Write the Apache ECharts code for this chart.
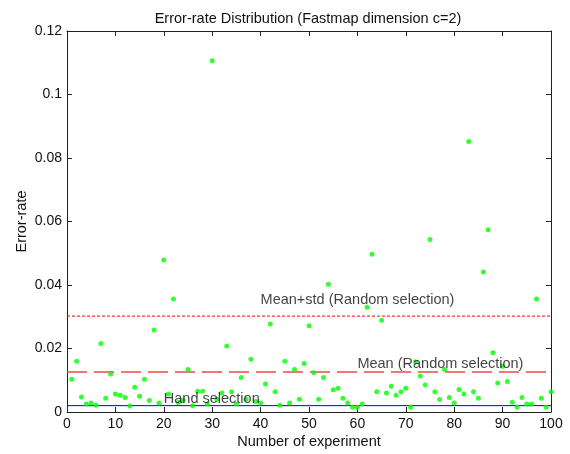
<!DOCTYPE html>
<html>
<head>
<meta charset="utf-8">
<script src="https://cdn.jsdelivr.net/npm/echarts@6/dist/echarts.min.js"></script>
<style>html,body{margin:0;padding:0;background:#fff}#c{width:570px;height:454px}</style>
</head>
<body>
<div id="c"></div>
<script>
var experiments = [1,2,3,4,5,6,7,8,9,10,11,12,13,14,15,16,17,18,19,20,
  21,22,23,24,25,26,27,28,29,30,31,32,33,34,35,36,37,38,39,40,
  41,42,43,44,45,46,47,48,49,50,51,52,53,54,55,56,57,58,59,60,
  61,62,63,64,65,66,67,68,69,70,71,72,73,74,75,76,77,78,79,80,
  81,82,83,84,85,86,87,88,89,90,91,92,93,94,95,96,97,98,99,100];
var errorRates = [
  0.0103,0.0160,0.0047,0.0025,0.0028,0.0021,0.0216,0.0043,0.0120,0.0057,
  0.0053,0.0046,0.0019,0.0078,0.0050,0.0103,0.0036,0.0258,0.0028,0.0479,
  0.0057,0.0356,0.0030,0.0037,0.0134,0.0020,0.0065,0.0065,0.0025,0.1106,
  0.0040,0.0060,0.0208,0.0064,0.0025,0.0109,0.0040,0.0166,0.0033,0.0028,
  0.0088,0.0277,0.0064,0.0021,0.0160,0.0028,0.0134,0.0040,0.0153,0.0272,
  0.0124,0.0040,0.0109,0.0402,0.0070,0.0075,0.0043,0.0028,0.0015,0.0015,
  0.0025,0.0330,0.0497,0.0064,0.0289,0.0060,0.0081,0.0053,0.0064,0.0075,
  0.0015,0.0158,0.0113,0.0085,0.0543,0.0064,0.0039,0.0134,0.0046,0.0028,
  0.0071,0.0057,0.0852,0.0064,0.0043,0.0441,0.0574,0.0187,0.0091,0.0144,
  0.0096,0.0031,0.0015,0.0046,0.0025,0.0025,0.0356,0.0043,0.0015,0.0064];
var meanStdRandom = 0.0302;
var meanRandom = 0.0126;
var handSelection = 0.0020;
var lineRange = [0, 100];
var labelTexts = ['Mean+std (Random selection)', 'Mean (Random selection)', 'Hand selection'];
var labelX = [40, 60, 20];
var labelY = [0.0353, 0.0150, 0.0040];

var pts = experiments.map(function (e, i) { return [e, errorRates[i]]; });
function hline(v) { return [[lineRange[0], v], [lineRange[1], v]]; }
var labelData = labelTexts.map(function (t, i) { return { value: [labelX[i], labelY[i]], name: t }; });

var FONT = 'Liberation Sans';
var FS = 14;
var TFS = 14.5;
var axisCol = '#222';
var common = {
  axisLine: { show: true, onZero: false, lineStyle: { color: axisCol, width: 1 } },
  axisTick: { show: true, inside: true, length: 5, lineStyle: { color: axisCol } },
  splitLine: { show: false },
  minorTick: { show: false },
  nameMoveOverlap: false
};
function ax(o) { return Object.assign({}, JSON.parse(JSON.stringify(common)), o); }

var chart = echarts.init(document.getElementById('c'), null, { renderer: 'canvas' });
chart.setOption({
  animation: false,
  backgroundColor: '#fff',
  title: {
    text: 'Error-rate Distribution (Fastmap dimension c=2)',
    left: 303, top: 6, textAlign: 'center',
    textStyle: { fontFamily: FONT, fontSize: TFS, fontWeight: 'normal', color: '#111' }
  },
  grid: { left: 67, right: 19, top: 31, bottom: 42, containLabel: false, outerBoundsMode: 'none' },
  xAxis: [
    ax({ type: 'value', position: 'bottom', min: 0, max: 100, interval: 10,
      name: 'Number of experiment', nameLocation: 'middle', nameGap: 22,
      nameTextStyle: { fontFamily: FONT, fontSize: TFS, color: '#111' },
      axisLabel: { fontFamily: FONT, fontSize: FS, color: '#111', margin: 5 } }),
    ax({ type: 'value', position: 'top', min: 0, max: 100, interval: 10,
      axisLabel: { show: false } })
  ],
  yAxis: [
    ax({ type: 'value', position: 'left', min: 0, max: 0.12, interval: 0.02,
      name: 'Error-rate', nameLocation: 'middle', nameGap: 38,
      nameTextStyle: { fontFamily: FONT, fontSize: TFS, color: '#111' },
      axisLabel: { fontFamily: FONT, fontSize: FS, color: '#111', margin: 5 } }),
    ax({ type: 'value', position: 'right', min: 0, max: 0.12, interval: 0.02,
      axisLabel: { show: false } })
  ],
  series: [
    { type: 'line', data: hline(meanStdRandom), symbol: 'none', silent: true,
      lineStyle: { color: '#ff0000', width: 1, type: [3, 2] }, z: 2 },
    { type: 'line', data: hline(meanRandom), symbol: 'none', silent: true,
      lineStyle: { color: '#f04848', width: 1.5, type: [20, 7] }, z: 2 },
    { type: 'line', data: hline(handSelection), symbol: 'none', silent: true,
      lineStyle: { color: '#0000ff', width: 1 }, z: 2 },
    { type: 'scatter', data: pts, symbol: 'circle', symbolSize: 5,
      itemStyle: { color: '#00ff00' }, z: 3 },
    { type: 'scatter', data: labelData, symbolSize: 0, silent: true, z: 5,
      label: { show: true, position: 'right', distance: 0, formatter: '{b}',
        fontFamily: FONT, fontSize: TFS, color: '#111' } }
  ]
});
</script>
</body>
</html>
